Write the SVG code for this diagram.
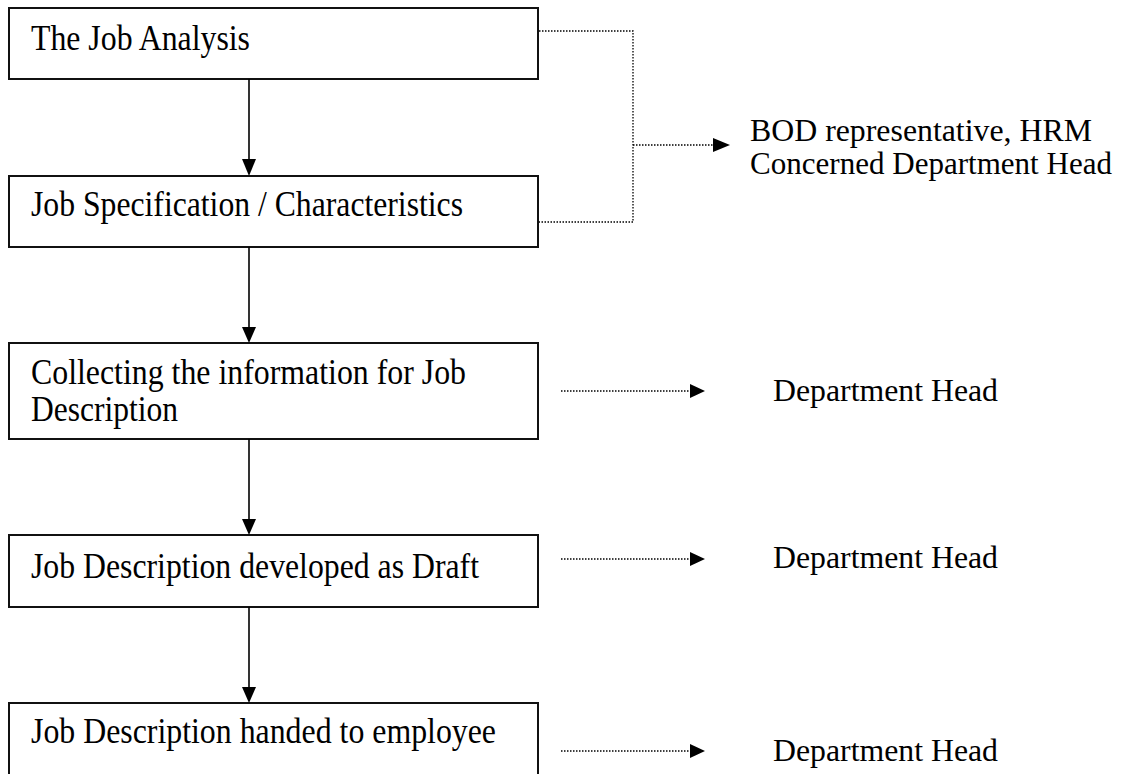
<svg xmlns="http://www.w3.org/2000/svg" width="1126" height="774" viewBox="0 0 1126 774">
  <style>
    .box { fill: #ffffff; stroke: #111111; stroke-width: 2; }
    .label { font-family: "Liberation Serif", "Times New Roman", serif; font-size: 35px; fill: #000000; }
    .side { font-family: "Liberation Serif", "Times New Roman", serif; font-size: 32px; fill: #000000; }
    .flow { stroke: #000000; stroke-width: 1.6; fill: none; }
    .dot { stroke: #000000; stroke-width: 1.3; stroke-dasharray: 1.5 1.5; fill: none; }
    .head { fill: #000000; stroke: none; }
  </style>
  <rect x="0" y="0" width="1126" height="774" fill="#ffffff"/>

  <!-- process steps -->
  <g id="step-job-analysis">
    <rect class="box" x="9" y="8" width="529" height="71"/>
    <text class="label" x="31" y="50" textLength="219" lengthAdjust="spacingAndGlyphs">The Job Analysis</text>
  </g>
  <g id="step-job-specification">
    <rect class="box" x="9" y="176" width="529" height="71"/>
    <text class="label" x="31" y="216" textLength="432" lengthAdjust="spacingAndGlyphs">Job Specification / Characteristics</text>
  </g>
  <g id="step-collecting">
    <rect class="box" x="9" y="343" width="529" height="96"/>
    <text class="label" x="31" y="384" textLength="435" lengthAdjust="spacingAndGlyphs">Collecting the information for Job</text>
    <text class="label" x="31" y="421" textLength="147" lengthAdjust="spacingAndGlyphs">Description</text>
  </g>
  <g id="step-draft">
    <rect class="box" x="9" y="535" width="529" height="72"/>
    <text class="label" x="31" y="578" textLength="448" lengthAdjust="spacingAndGlyphs">Job Description developed as Draft</text>
  </g>
  <g id="step-handed">
    <rect class="box" x="9" y="703" width="529" height="80"/>
    <text class="label" x="31" y="743" textLength="465" lengthAdjust="spacingAndGlyphs">Job Description handed to employee</text>
  </g>

  <!-- responsible parties -->
  <g id="resp-bod">
    <text class="side" x="750" y="141" textLength="342" lengthAdjust="spacingAndGlyphs">BOD representative, HRM</text>
    <text class="side" x="750" y="174" textLength="362" lengthAdjust="spacingAndGlyphs">Concerned Department Head</text>
  </g>
  <g id="resp-collecting">
    <text class="side" x="773" y="401" textLength="225" lengthAdjust="spacingAndGlyphs">Department Head</text>
  </g>
  <g id="resp-draft">
    <text class="side" x="773" y="568" textLength="225" lengthAdjust="spacingAndGlyphs">Department Head</text>
  </g>
  <g id="resp-handed">
    <text class="side" x="773" y="761" textLength="225" lengthAdjust="spacingAndGlyphs">Department Head</text>
  </g>

  <!-- connectors -->
  <g id="connectors">
    <!-- main flow -->
    <line class="flow" x1="249" y1="79" x2="249" y2="161"/>
    <polygon class="head" points="242,159 256,159 249,176"/>
    <line class="flow" x1="249" y1="247" x2="249" y2="329"/>
    <polygon class="head" points="242,327 256,327 249,343"/>
    <line class="flow" x1="249" y1="439" x2="249" y2="521"/>
    <polygon class="head" points="242,519 256,519 249,535"/>
    <line class="flow" x1="249" y1="607" x2="249" y2="689"/>
    <polygon class="head" points="242,687 256,687 249,703"/>

    <!-- bracket to BOD / HRM -->
    <polyline class="dot" points="539,31 633,31 633,222 539,222"/>
    <line class="dot" x1="633" y1="145" x2="714" y2="145"/>
    <polygon class="head" points="713,138 713,152 730,145"/>

    <!-- department head links -->
    <line class="dot" x1="561" y1="391" x2="691" y2="391"/>
    <polygon class="head" points="690,384 690,398 705,391"/>
    <line class="dot" x1="561" y1="559" x2="691" y2="559"/>
    <polygon class="head" points="690,552 690,566 705,559"/>
    <line class="dot" x1="561" y1="751" x2="691" y2="751"/>
    <polygon class="head" points="690,744 690,758 705,751"/>
  </g>
</svg>
